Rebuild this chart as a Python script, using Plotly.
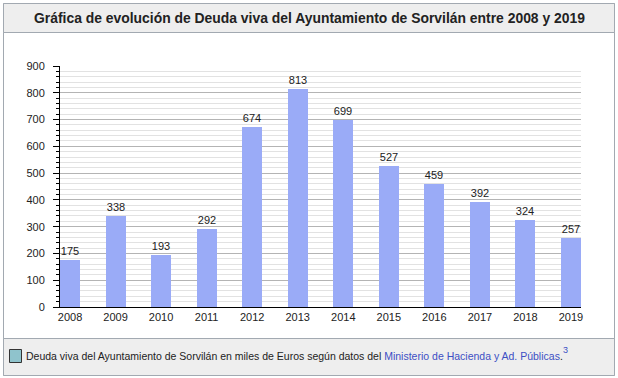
import plotly.graph_objects as go

years = ["2008", "2009", "2010", "2011", "2012", "2013", "2014", "2015", "2016", "2017", "2018", "2019"]
deuda = [175, 338, 193, 292, 674, 813, 699, 527, 459, 392, 324, 257]

W, H = 618, 378
L, R, T, B = 60, 581, 66, 307  # plot area in px

def px(x):
    return (x - L) / (R - L)

def py(y):
    return (B - y) / (B - T)

FONT = "Arial, Liberation Sans, sans-serif"
BORDER = "#a2a9b1"
BAND = "#eeeeee"
LINK = "#3d4fc4"

fig = go.Figure()
fig.add_trace(go.Bar(
    x=list(range(len(years))), y=deuda, width=0.44,
    marker=dict(color="#9aabf7", line=dict(width=0)),
    text=[str(v) for v in deuda], textposition="outside",
    textfont=dict(size=11, color="#222222", family=FONT),
    cliponaxis=False, hoverinfo="x+y",
))

shapes = [
    dict(type="rect", xref="paper", yref="paper", x0=px(3.5), x1=px(614.5), y0=py(3.5), y1=py(375.5),
         line=dict(color=BORDER, width=1), fillcolor="white", layer="below"),
    dict(type="rect", xref="paper", yref="paper", x0=px(3.5), x1=px(614.5), y0=py(3.5), y1=py(32.5),
         line=dict(color=BORDER, width=1), fillcolor=BAND, layer="below"),
    dict(type="rect", xref="paper", yref="paper", x0=px(3.5), x1=px(614.5), y0=py(338.5), y1=py(375.5),
         line=dict(color=BORDER, width=1), fillcolor=BAND, layer="below"),
    dict(type="rect", xref="paper", yref="paper", x0=px(9.5), x1=px(21.5), y0=py(349.5), y1=py(362.5),
         line=dict(color="#333333", width=1), fillcolor="#8fc3cc"),
]

annotations = [
    dict(text="<b>Gráfica de evolución de Deuda viva del Ayuntamiento de Sorvilán entre 2008 y 2019</b>",
         xref="paper", yref="paper", x=px(309.5), y=py(18), xanchor="center", yanchor="middle",
         showarrow=False, font=dict(size=13.9, color="#222222", family=FONT)),
    dict(text="Deuda viva del Ayuntamiento de Sorvilán en miles de Euros según datos del "
              "<span style='color:" + LINK + "'>Ministerio de Hacienda y Ad. Públicas</span>.",
         xref="paper", yref="paper", x=px(24), y=py(356), xanchor="left", yanchor="middle",
         showarrow=False, font=dict(size=10.5, color="#222222", family=FONT)),
    dict(text="3",
         xref="paper", yref="paper", x=px(561), y=py(350), xanchor="left", yanchor="middle",
         showarrow=False, font=dict(size=9, color=LINK, family=FONT)),
]

fig.update_layout(
    width=W, height=H,
    margin=dict(l=L, r=W - R, t=T, b=H - B, pad=0),
    paper_bgcolor="white", plot_bgcolor="white",
    font=dict(family=FONT, size=11, color="#222222"),
    showlegend=False, bargap=0,
    shapes=shapes, annotations=annotations,
    xaxis=dict(
        range=[-0.22, 11.22], tickmode="array", tickvals=list(range(len(years))), ticktext=years,
        showline=True, linecolor="black", linewidth=1, ticks="", showgrid=False, zeroline=False,
        tickfont=dict(size=11, color="#222222"), fixedrange=True,
    ),
    yaxis=dict(
        range=[0, 900], dtick=100, tick0=0, showline=True, linecolor="black", linewidth=1,
        ticks="outside", ticklen=6, tickcolor="black", tickwidth=1,
        showgrid=True, gridcolor="#b4b4b4", gridwidth=1, zeroline=False,
        tickfont=dict(size=11, color="#222222"), ticklabelstandoff=6,
        minor=dict(dtick=20, showgrid=True, gridcolor="#e2e2e2", gridwidth=1,
                   ticks="outside", ticklen=3, tickcolor="black"),
        fixedrange=True,
    ),
)

fig.write_html(
    "out.html",
    config={"displayModeBar": False},
    post_script="document.body.style.margin='0';document.body.style.padding='0';document.body.style.overflow='hidden';",
)
